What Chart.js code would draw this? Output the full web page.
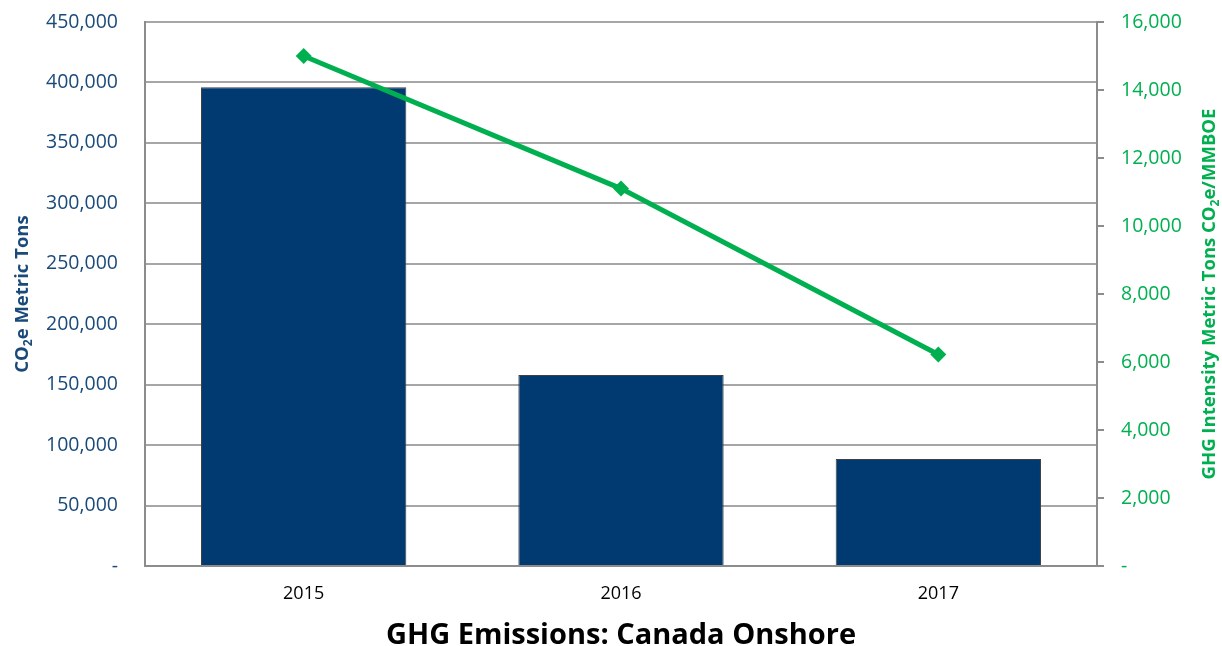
<!DOCTYPE html>
<html>
<head>
<meta charset="utf-8">
<script src="https://cdn.jsdelivr.net/npm/chart.js@4.4.1/dist/chart.umd.min.js"></script>
<style>
html,body{margin:0;padding:0;background:#fff;}
#wrap{width:1222px;height:646px;position:relative;}
</style>
</head>
<body>
<div id="wrap"><canvas id="c" width="1222" height="646"></canvas></div>
<script>
const categories = ['2015', '2016', '2017'];
const emissions = [396000, 158000, 88500];
const intensity = [15000, 11100, 6220];
const leftTicks = { min: 0, max: 450000, step: 50000 };
const rightTicks = { min: 0, max: 16000, step: 2000 };
const chartTitle = 'GHG Emissions: Canada Onshore';
const leftTitle = [{t:'CO'},{t:'2',sub:true},{t:'e Metric Tons'}];
const rightTitle = [{t:'GHG Intensity Metric Tons CO'},{t:'2',sub:true},{t:'e/MMBOE'}];

const NAVY = '#003A70';
const BLUE_TXT = '#1A4A7A';
const GREEN = '#00B050';
const FONT = "'Open Sans', sans-serif";

function fmt(v){ return v === 0 ? '-' : v.toLocaleString('en-US'); }

function drawRich(ctx, parts, cx, cy, size, color){
  ctx.save();
  ctx.translate(cx, cy);
  ctx.rotate(-Math.PI/2);
  const big = 'bold ' + size + 'px ' + FONT;
  const small = 'bold ' + Math.round(size*0.65) + 'px ' + FONT;
  let total = 0;
  parts.forEach(p => { ctx.font = p.sub ? small : big; total += ctx.measureText(p.t).width; });
  let x = -total/2;
  ctx.fillStyle = color;
  ctx.textBaseline = 'middle';
  ctx.textAlign = 'left';
  parts.forEach(p => {
    ctx.font = p.sub ? small : big;
    ctx.fillText(p.t, x, p.sub ? size*0.28 : 0);
    x += ctx.measureText(p.t).width;
  });
  ctx.restore();
}

const axisTitles = {
  id: 'axisTitles',
  afterDraw(chart){
    const ctx = chart.ctx;
    const ca = chart.chartArea;
    const cy = (ca.top + ca.bottom)/2;
    drawRich(ctx, leftTitle, 23, cy, 18.5, BLUE_TXT);
    drawRich(ctx, rightTitle, 1210, cy, 18.5, GREEN);
  }
};

new Chart(document.getElementById('c'), {
  data: {
    labels: categories,
    datasets: [
      {
        type: 'line',
        label: 'GHG Intensity',
        data: intensity,
        yAxisID: 'y1',
        borderColor: GREEN,
        backgroundColor: GREEN,
        borderWidth: 5,
        pointStyle: 'rectRot',
        pointRadius: 8,
        pointHoverRadius: 8,
        pointBorderWidth: 0,
        tension: 0,
        order: 0
      },
      {
        type: 'bar',
        label: 'Emissions',
        data: emissions,
        yAxisID: 'y',
        backgroundColor: NAVY,
        borderColor: '#404040',
        borderWidth: 1,
        barPercentage: 0.647,
        categoryPercentage: 1,
        order: 1
      }
    ]
  },
  options: {
    responsive: false,
    animation: false,
    devicePixelRatio: 1,
    layout: { padding: { top: 22, left: 0, right: 0, bottom: 0 } },
    plugins: {
      legend: { display: false },
      tooltip: { enabled: false },
      title: {
        display: true,
        position: 'bottom',
        fullSize: false,
        text: chartTitle,
        color: '#000',
        font: { family: FONT, size: 29, weight: 'bold', lineHeight: 0.724 },
        padding: { top: 23, bottom: 0 }
      }
    },
    scales: {
      x: {
        grid: { display: false, drawTicks: false },
        border: { display: true, color: '#8C8C8C', width: 2 },
        ticks: { color: '#000', font: { family: FONT, size: 18 }, padding: 17 },
        afterFit(s){ s.height = 36; s.paddingLeft = 0; s.paddingRight = 0; }
      },
      y: {
        position: 'left',
        min: leftTicks.min, max: leftTicks.max,
        ticks: { stepSize: leftTicks.step, color: BLUE_TXT, font: { family: FONT, size: 19.5 }, padding: 27, callback: fmt },
        grid: { color: '#A6A6A6', lineWidth: 2, drawTicks: false },
        border: { display: true, color: '#8C8C8C', width: 2 },
        afterFit(s){ s.width = 145; s.paddingTop = 0; s.paddingBottom = 0; }
      },
      y1: {
        position: 'right',
        min: rightTicks.min, max: rightTicks.max,
        ticks: { stepSize: rightTicks.step, color: GREEN, font: { family: FONT, size: 19.5 }, padding: 17, callback: fmt },
        grid: { drawOnChartArea: false, color: '#8C8C8C', lineWidth: 2, tickLength: 7 },
        border: { display: true, color: '#8C8C8C', width: 2 },
        afterFit(s){ s.width = 125; s.paddingTop = 0; s.paddingBottom = 0; }
      }
    }
  },
  plugins: [axisTitles]
});
</script>
</body>
</html>
